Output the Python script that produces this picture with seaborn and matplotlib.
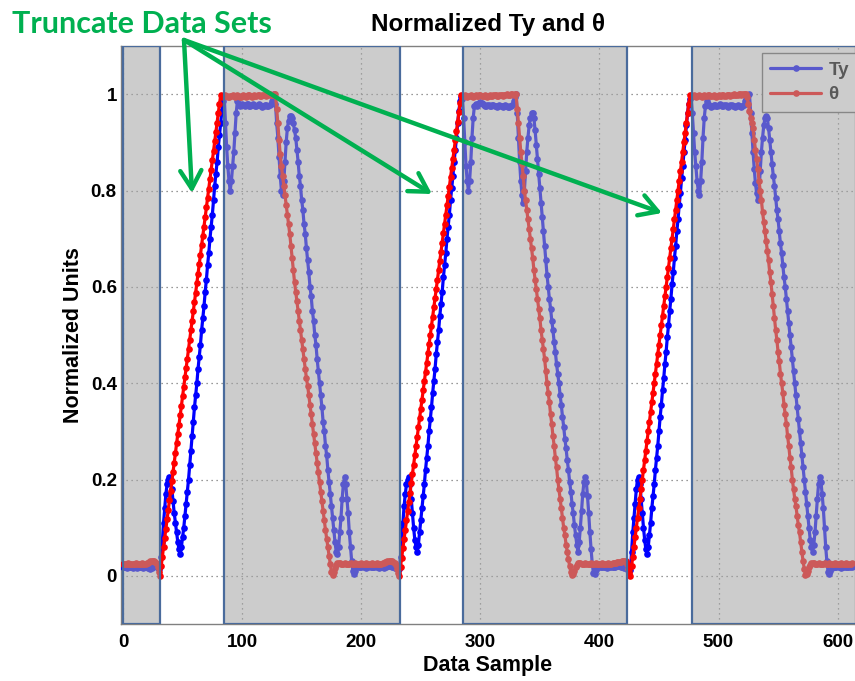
import numpy as np
import pandas as pd
import matplotlib
matplotlib.use("Agg")
import matplotlib.pyplot as plt
from matplotlib.lines import Line2D
import seaborn as sns

# ---------------- data (one value per data sample) ----------------
theta_seg0 = [0.024, 0.025, 0.024, 0.025, 0.026, 0.025, 0.024, 0.025, 0.025, 0.024,
              0.025, 0.026, 0.025, 0.024, 0.025, 0.025, 0.026, 0.025, 0.024, 0.025,
              0.026, 0.027, 0.029, 0.030, 0.031, 0.031, 0.030, 0.029, 0.026, 0.018,
              0.008]
theta_seg1 = [0.000, 0.020, 0.039, 0.059, 0.078, 0.098, 0.118, 0.137, 0.157, 0.176,
              0.196, 0.216, 0.235, 0.255, 0.275, 0.294, 0.314, 0.333, 0.353, 0.373,
              0.392, 0.412, 0.431, 0.451, 0.471, 0.490, 0.510, 0.529, 0.549, 0.569,
              0.588, 0.608, 0.627, 0.647, 0.667, 0.686, 0.706, 0.725, 0.745, 0.765,
              0.784, 0.804, 0.824, 0.843, 0.863, 0.882, 0.902, 0.922, 0.941, 0.961,
              0.980, 0.998, 0.997, 0.995, 0.996, 0.998, 0.997, 0.995, 0.994, 0.996,
              0.997, 0.998, 0.996, 0.995, 0.997, 0.998, 0.996, 0.994, 0.995, 0.997,
              0.998, 0.997, 0.995, 0.996, 0.998, 0.999, 0.997, 0.995, 0.996, 0.998,
              0.997, 0.996, 0.998, 0.999, 0.997, 0.996, 0.998, 0.999, 0.998, 0.997,
              0.998, 0.999, 1.000, 0.999, 0.998, 0.999, 1.000, 1.000, 0.970, 0.940,
              0.905, 0.875, 0.850, 0.830, 0.810, 0.790, 0.770, 0.750, 0.730, 0.710,
              0.685, 0.660, 0.635, 0.610, 0.590, 0.570, 0.550, 0.530, 0.510, 0.490,
              0.470, 0.450, 0.430, 0.410, 0.395, 0.375, 0.355, 0.335, 0.315, 0.295,
              0.275, 0.255, 0.235, 0.215, 0.195, 0.175, 0.155, 0.135, 0.115, 0.095,
              0.077, 0.060, 0.042, 0.025, 0.008, 0.002, 0.008, 0.016, 0.022, 0.026,
              0.027, 0.026, 0.025, 0.024, 0.025, 0.026, 0.025, 0.024, 0.025, 0.025,
              0.026, 0.025, 0.024, 0.025, 0.026, 0.025, 0.025, 0.024, 0.025, 0.026,
              0.025, 0.024, 0.025, 0.026, 0.025, 0.024, 0.025, 0.025, 0.026, 0.025,
              0.024, 0.025, 0.026, 0.025, 0.025, 0.024, 0.025, 0.026, 0.027, 0.028,
              0.029, 0.030, 0.031, 0.031, 0.031, 0.030, 0.029, 0.027, 0.022, 0.014,
              0.005]
theta_seg2 = [0.000, 0.019, 0.038, 0.058, 0.077, 0.096, 0.115, 0.135, 0.154, 0.173,
              0.192, 0.212, 0.231, 0.250, 0.269, 0.288, 0.308, 0.327, 0.346, 0.365,
              0.385, 0.404, 0.423, 0.442, 0.462, 0.481, 0.500, 0.519, 0.538, 0.558,
              0.577, 0.596, 0.615, 0.635, 0.654, 0.673, 0.692, 0.712, 0.731, 0.750,
              0.769, 0.788, 0.808, 0.827, 0.846, 0.865, 0.885, 0.904, 0.923, 0.942,
              0.962, 0.981, 0.998, 0.997, 0.996, 0.998, 0.997, 0.995, 0.996, 0.997,
              0.998, 0.996, 0.995, 0.997, 0.998, 0.997, 0.996, 0.998, 0.999, 0.997,
              0.996, 0.997, 0.998, 0.997, 0.995, 0.996, 0.998, 0.997, 0.996, 0.998,
              0.999, 0.998, 0.997, 0.996, 0.998, 0.999, 0.998, 0.997, 0.998, 0.999,
              1.000, 0.999, 0.998, 0.999, 1.000, 1.000, 0.999, 1.000, 1.000, 0.970,
              0.940, 0.910, 0.880, 0.855, 0.830, 0.800, 0.780, 0.760, 0.740, 0.720,
              0.700, 0.680, 0.660, 0.635, 0.615, 0.595, 0.575, 0.555, 0.535, 0.510,
              0.490, 0.470, 0.450, 0.425, 0.400, 0.380, 0.360, 0.335, 0.315, 0.290,
              0.270, 0.245, 0.225, 0.200, 0.180, 0.160, 0.140, 0.120, 0.100, 0.085,
              0.065, 0.050, 0.035, 0.020, 0.008, 0.001, 0.004, 0.010, 0.018, 0.023,
              0.026, 0.027, 0.026, 0.025, 0.024, 0.025, 0.026, 0.025, 0.024, 0.025,
              0.025, 0.026, 0.025, 0.024, 0.025, 0.026, 0.025, 0.025, 0.024, 0.025,
              0.026, 0.025, 0.024, 0.025, 0.025, 0.026, 0.025, 0.024, 0.025, 0.026,
              0.026, 0.027, 0.027, 0.028, 0.028, 0.029, 0.029, 0.030, 0.031, 0.031,
              0.030, 0.024, 0.014, 0.005]
theta_seg3 = [0.000, 0.020, 0.040, 0.060, 0.080, 0.100, 0.120, 0.140, 0.160, 0.180,
              0.200, 0.220, 0.240, 0.260, 0.280, 0.300, 0.320, 0.340, 0.360, 0.380,
              0.400, 0.420, 0.440, 0.460, 0.480, 0.500, 0.520, 0.540, 0.560, 0.580,
              0.600, 0.620, 0.640, 0.660, 0.680, 0.700, 0.720, 0.740, 0.760, 0.780,
              0.800, 0.820, 0.840, 0.860, 0.880, 0.900, 0.920, 0.940, 0.960, 0.980,
              0.998, 0.997, 0.996, 0.998, 0.997, 0.995, 0.996, 0.997, 0.998, 0.996,
              0.995, 0.997, 0.998, 0.997, 0.996, 0.998, 0.999, 0.997, 0.996, 0.997,
              0.998, 0.997, 0.995, 0.996, 0.998, 0.997, 0.996, 0.998, 0.999, 0.997,
              0.996, 0.998, 0.999, 0.998, 0.997, 0.998, 0.999, 1.000, 0.999, 0.998,
              0.999, 1.000, 1.000, 0.999, 1.000, 1.000, 1.000, 1.000, 0.995, 0.980,
              0.965, 0.950, 0.940, 0.930, 0.905, 0.885, 0.865, 0.845, 0.820, 0.800,
              0.780, 0.755, 0.735, 0.715, 0.695, 0.675, 0.655, 0.630, 0.610, 0.585,
              0.560, 0.535, 0.510, 0.490, 0.465, 0.445, 0.420, 0.400, 0.380, 0.355,
              0.335, 0.315, 0.290, 0.270, 0.245, 0.225, 0.200, 0.180, 0.160, 0.145,
              0.125, 0.105, 0.090, 0.070, 0.050, 0.030, 0.015, 0.002, 0.003, 0.010,
              0.018, 0.023, 0.026, 0.027, 0.026, 0.025, 0.024, 0.025, 0.026, 0.025,
              0.024, 0.025, 0.025, 0.026, 0.025, 0.024, 0.025, 0.026, 0.025, 0.025,
              0.024, 0.025, 0.026, 0.025, 0.024, 0.025, 0.025, 0.026, 0.025, 0.024,
              0.025, 0.026, 0.025, 0.024, 0.025, 0.025, 0.026]

ty_seg0 = [0.018, 0.019, 0.018, 0.017, 0.018, 0.019, 0.018, 0.018, 0.017, 0.018,
           0.019, 0.018, 0.017, 0.018, 0.019, 0.018, 0.018, 0.017, 0.018, 0.019,
           0.018, 0.017, 0.016, 0.015, 0.016, 0.018, 0.020, 0.021, 0.020, 0.017,
           0.014]
ty_seg1 = [0.020, 0.040, 0.070, 0.110, 0.140, 0.170, 0.190, 0.200, 0.205, 0.200,
           0.180, 0.155, 0.130, 0.110, 0.090, 0.070, 0.055, 0.045, 0.060, 0.080,
           0.100, 0.125, 0.150, 0.175, 0.200, 0.230, 0.260, 0.290, 0.320, 0.350,
           0.375, 0.400, 0.430, 0.455, 0.480, 0.510, 0.535, 0.560, 0.590, 0.615,
           0.645, 0.670, 0.700, 0.725, 0.750, 0.780, 0.810, 0.835, 0.860, 0.890,
           0.915, 0.940, 0.965, 0.985, 0.995, 0.940, 0.890, 0.850, 0.820, 0.800,
           0.820, 0.850, 0.880, 0.920, 0.960, 0.985, 0.980, 0.975, 0.978, 0.980,
           0.977, 0.975, 0.978, 0.980, 0.979, 0.976, 0.975, 0.977, 0.980, 0.978,
           0.976, 0.975, 0.977, 0.979, 0.978, 0.976, 0.974, 0.976, 0.978, 0.977,
           0.975, 0.976, 0.978, 0.980, 0.985, 0.995, 1.000, 0.980, 0.940, 0.910,
           0.870, 0.830, 0.800, 0.790, 0.820, 0.860, 0.900, 0.930, 0.945, 0.955,
           0.955, 0.950, 0.940, 0.925, 0.910, 0.885, 0.860, 0.830, 0.810, 0.780,
           0.760, 0.730, 0.710, 0.680, 0.655, 0.630, 0.600, 0.580, 0.550, 0.530,
           0.500, 0.480, 0.450, 0.425, 0.400, 0.375, 0.350, 0.320, 0.300, 0.270,
           0.250, 0.220, 0.195, 0.170, 0.145, 0.120, 0.095, 0.070, 0.050, 0.045,
           0.060, 0.090, 0.120, 0.160, 0.190, 0.205, 0.190, 0.160, 0.130, 0.090,
           0.060, 0.030, 0.010, 0.003, 0.010, 0.018, 0.020, 0.019, 0.018, 0.019,
           0.020, 0.019, 0.018, 0.017, 0.018, 0.019, 0.020, 0.019, 0.018, 0.018,
           0.019, 0.020, 0.019, 0.018, 0.017, 0.018, 0.019, 0.018, 0.017, 0.018,
           0.019, 0.020, 0.021, 0.021, 0.020, 0.019, 0.018, 0.017, 0.016, 0.015,
           0.014]
ty_seg2 = [0.015, 0.040, 0.075, 0.110, 0.145, 0.170, 0.190, 0.200, 0.205, 0.190,
           0.160, 0.130, 0.100, 0.075, 0.060, 0.050, 0.065, 0.090, 0.115, 0.140,
           0.165, 0.190, 0.220, 0.245, 0.270, 0.300, 0.325, 0.350, 0.380, 0.405,
           0.430, 0.460, 0.485, 0.510, 0.540, 0.565, 0.590, 0.620, 0.645, 0.670,
           0.700, 0.725, 0.750, 0.780, 0.805, 0.830, 0.860, 0.885, 0.910, 0.940,
           0.965, 0.985, 0.995, 0.990, 0.950, 0.900, 0.850, 0.820, 0.800, 0.820,
           0.860, 0.910, 0.950, 0.975, 0.980, 0.975, 0.980, 0.982, 0.983, 0.981,
           0.980, 0.978, 0.976, 0.975, 0.977, 0.978, 0.976, 0.975, 0.977, 0.978,
           0.976, 0.975, 0.974, 0.976, 0.977, 0.976, 0.975, 0.974, 0.976, 0.977,
           0.975, 0.974, 0.973, 0.975, 0.975, 0.978, 0.985, 0.995, 1.000, 0.960,
           0.910, 0.860, 0.820, 0.790, 0.775, 0.800, 0.840, 0.880, 0.910, 0.935,
           0.950, 0.960, 0.960, 0.950, 0.925, 0.895, 0.865, 0.835, 0.805, 0.775,
           0.745, 0.715, 0.685, 0.655, 0.625, 0.600, 0.575, 0.555, 0.530, 0.510,
           0.485, 0.465, 0.440, 0.420, 0.400, 0.375, 0.355, 0.330, 0.310, 0.285,
           0.265, 0.240, 0.220, 0.195, 0.175, 0.150, 0.130, 0.105, 0.085, 0.065,
           0.050, 0.070, 0.100, 0.135, 0.170, 0.195, 0.205, 0.195, 0.165, 0.130,
           0.090, 0.055, 0.025, 0.005, 0.003, 0.012, 0.018, 0.020, 0.019, 0.018,
           0.019, 0.020, 0.019, 0.018, 0.017, 0.018, 0.019, 0.020, 0.019, 0.018,
           0.018, 0.019, 0.020, 0.021, 0.021, 0.020, 0.019, 0.018, 0.018, 0.017,
           0.016, 0.015, 0.013, 0.012]
ty_seg3 = [0.012, 0.050, 0.090, 0.120, 0.150, 0.180, 0.200, 0.205, 0.190, 0.160,
           0.130, 0.100, 0.075, 0.055, 0.045, 0.060, 0.085, 0.110, 0.140, 0.165,
           0.190, 0.220, 0.245, 0.270, 0.300, 0.330, 0.355, 0.385, 0.410, 0.440,
           0.465, 0.495, 0.520, 0.550, 0.575, 0.605, 0.630, 0.660, 0.685, 0.715,
           0.740, 0.770, 0.795, 0.825, 0.850, 0.880, 0.905, 0.935, 0.960, 0.980,
           0.990, 0.995, 0.960, 0.920, 0.880, 0.850, 0.820, 0.800, 0.790, 0.820,
           0.860, 0.910, 0.950, 0.975, 0.985, 0.980, 0.977, 0.975, 0.973, 0.975,
           0.977, 0.978, 0.976, 0.975, 0.977, 0.979, 0.978, 0.976, 0.975, 0.977,
           0.978, 0.976, 0.974, 0.975, 0.977, 0.978, 0.976, 0.975, 0.973, 0.975,
           0.977, 0.976, 0.975, 0.974, 0.975, 0.978, 0.985, 0.990, 0.995, 0.998,
           1.000, 0.960, 0.920, 0.880, 0.845, 0.815, 0.795, 0.780, 0.800, 0.840,
           0.880, 0.910, 0.935, 0.950, 0.955, 0.950, 0.930, 0.905, 0.880, 0.855,
           0.830, 0.810, 0.785, 0.760, 0.740, 0.715, 0.690, 0.670, 0.645, 0.620,
           0.600, 0.575, 0.550, 0.525, 0.500, 0.475, 0.450, 0.425, 0.400, 0.375,
           0.350, 0.325, 0.300, 0.275, 0.250, 0.225, 0.200, 0.175, 0.150, 0.125,
           0.100, 0.075, 0.060, 0.050, 0.065, 0.090, 0.125, 0.160, 0.190, 0.205,
           0.195, 0.170, 0.140, 0.100, 0.060, 0.030, 0.008, 0.003, 0.010, 0.017,
           0.020, 0.019, 0.018, 0.019, 0.020, 0.019, 0.018, 0.017, 0.018, 0.019,
           0.020, 0.019, 0.018, 0.018, 0.019, 0.020, 0.019]

# shaded "truncated" spans (data-sample ranges)
span_starts = [0, 84.5, 285.5, 477.5]
span_ends = [31, 232.5, 423.5, 700]

x_ticks = [0, 100, 200, 300, 400, 500, 600]
y_ticks = [0, 0.2, 0.4, 0.6, 0.8, 1.0]
y_tick_labels = ["0", "0.2", "0.4", "0.6", "0.8", "1"]
series_names = ["Ty", "θ"]

# ---------------- build table ----------------
ty = np.array(ty_seg0 + ty_seg1 + ty_seg2 + ty_seg3)
theta = np.array(theta_seg0 + theta_seg1 + theta_seg2 + theta_seg3)
df = pd.concat([
    pd.DataFrame({"sample": np.arange(len(ty)), "value": ty, "series": "Ty"}),
    pd.DataFrame({"sample": np.arange(len(theta)), "value": theta, "series": "θ"}),
], ignore_index=True)

# ---------------- style ----------------
sns.set_style("white")
plt.rcParams["font.family"] = ["Liberation Sans", "DejaVu Sans"]
plt.rcParams["text.color"] = "black"
plt.rcParams["axes.labelcolor"] = "black"
plt.rcParams["xtick.color"] = "black"
plt.rcParams["ytick.color"] = "black"

W, H = 855, 681
fig = plt.figure(figsize=(W / 100, H / 100), dpi=100)
ax = fig.add_axes([121 / W, 1 - 624 / H, (W - 121) / W, 578 / H])

palette = {"Ty": "#0000ff", "θ": "#ff0000"}
sns.lineplot(data=df, x="sample", y="value", hue="series", hue_order=series_names,
             palette=palette, marker="o", markersize=4.8, markeredgewidth=0,
             linewidth=2.3, ax=ax, legend=False, zorder=3)

ax.set_xlim(-1.7, 614.6)
ax.set_ylim(-0.1, 1.1)
ax.set_xticks(x_ticks)
ax.set_xticklabels([str(t) for t in x_ticks])
ax.set_yticks(y_ticks)
ax.set_yticklabels(y_tick_labels)
ax.grid(True, linestyle=(0, (1, 3)), color="#777777", linewidth=0.9)
ax.set_axisbelow(True)
ax.tick_params(direction="in", length=5, width=0.8, color="#666666",
               labelcolor="black", labelsize=13.5, pad=3)
ax.tick_params(axis="x", pad=7)
for lab in ax.get_xticklabels() + ax.get_yticklabels():
    lab.set_fontweight("bold")
for sp in ax.spines.values():
    sp.set_color("#808080")
    sp.set_linewidth(1.0)

ax.set_xlabel("Data Sample", fontsize=15.5, fontweight="bold", labelpad=3, color="black")
ax.set_ylabel("Normalized Units", fontsize=15.5, fontweight="bold", labelpad=5, color="black")
ax.set_title("Normalized Ty and θ", fontsize=17.5, fontweight="bold", pad=11, color="black")

# legend (sits beneath the grey overlay, like the reference)
handles = [Line2D([], [], color=palette[n], marker="o", markersize=4.8,
                  markeredgewidth=0, linewidth=2.3) for n in series_names]
leg = ax.legend(handles, series_names, loc="upper left",
                bbox_to_anchor=(762 / W, 1 - 53 / H), bbox_transform=fig.transFigure,
                borderaxespad=0, frameon=True, fancybox=False, framealpha=1,
                edgecolor="#666666", facecolor="white",
                prop={"size": 13.5, "weight": "bold"},
                handlelength=2.7, handletextpad=0.4, labelspacing=0.4,
                borderpad=0.45)
for t in leg.get_texts():
    t.set_color("black")
leg.set_zorder(5)

# grey semi-transparent overlays with blue borders
for a, b in zip(span_starts, span_ends):
    ax.axvspan(a, b, ymin=0, ymax=1, facecolor=(0.64, 0.64, 0.64), alpha=0.55,
               edgecolor="none", zorder=6)
    ax.axvspan(a, b, ymin=0, ymax=1, facecolor="none", edgecolor="#4a6b9c",
               linewidth=1.6, zorder=7)

# annotation
green = "#00b050"
fig.text(12 / W, 1 - 33 / H, "Truncate Data Sets", color=green, fontsize=22,
         fontweight="bold", family=["Lato", "DejaVu Sans"], ha="left", va="baseline")
start = (184, H - 40)
for tip in [(192, H - 193), (432, H - 194), (662, H - 213)]:
    ax.annotate("", xy=tip, xytext=start, xycoords="figure pixels",
                textcoords="figure pixels", annotation_clip=False, zorder=20,
                arrowprops=dict(arrowstyle="->,head_length=0.65,head_width=0.38",
                                color=green, lw=3.2, mutation_scale=20,
                                shrinkA=0, shrinkB=0))

fig.savefig("out.png", dpi=100)
